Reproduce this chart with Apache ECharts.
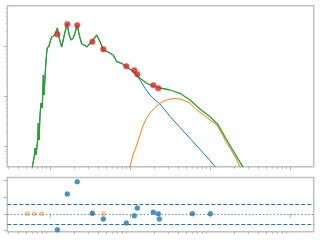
<!DOCTYPE html>
<html><head><meta charset="utf-8">
<script src="https://cdn.jsdelivr.net/npm/echarts@6/dist/echarts.min.js"></script>
<style>html,body{margin:0;padding:0;background:#fff}#c{width:320px;height:240px}</style>
</head><body><div id="c"></div>
<script>
// Total model (green)
const totalWave = [0.0587,0.0604,0.0637,0.0649,0.0668,0.0702,0.0714,0.0729,0.0750,0.0772,0.0801,0.0825,0.0841,0.0884,0.0910,0.0925,0.0972,0.100,0.105,0.110,0.1155,0.1234,0.127,0.132,0.140,0.151,0.163,0.174,0.183,0.1955,0.205,0.219,0.232,0.249,0.268,0.288,0.332,0.384,0.422,0.464,0.531,0.618,0.682,0.787,0.909,1.10,1.334,1.618,1.955,2.371,3.162,4.217,5.623,7.499,10.0,12.7,16.17,21.56,25.6,27.38];
const totalFlux = [0.2716,0.411,0.652,0.942,0.682,1.361,2.979,1.361,4.305,7.48,5.94,27.16,10.81,43.05,78.3,94.2,103.3,124.2,156.3,149.3,171.4,236.6,247.7,136.1,98.6,171.4,284.4,171.4,136.1,149.3,187.9,271.6,171.4,113.2,108.1,98.6,125.9,171.4,125.9,85.9,78.3,68.2,50.1,46.56,39.8,31.6,23.33,18.54,16.37,14.93,13.61,11.69,8.59,5.675,3.981,2.716,1.361,0.631,0.398,0.312];
// Stellar component (blue): identical to total below ~1.1, then its own tail
const stellarTailWave = [1.334,1.540,1.778,2.054,2.371,2.607,3.162,4.217,6.18,8.24,10.0,11.55,13.34];
const stellarTailFlux = [21.58,14.72,10.81,8.59,7.145,5.943,4.018,2.421,1.242,0.748,0.530,0.398,0.312];
// Dust component (orange)
const dustWave = [0.9716,1.090,1.213,1.334,1.466,1.618,1.778,2.054,2.371,2.738,3.162,3.652,4.217,4.87,5.623,6.823,8.66,10.0,12.13,13.72,15.4,17.78,20.54,23.71,25.85];
const dustFlux = [0.342,0.682,1.081,1.714,2.716,3.75,4.72,6.08,7.38,8.39,8.99,9.20,8.99,8.28,7.38,5.42,4.11,3.42,2.716,1.968,1.361,0.942,0.631,0.398,0.312];
// Observations (red)
const obsWave = [0.1234,0.1644,0.219,0.338,0.464,0.899,1.132,1.234,1.955,2.259];
const obsFlux = [177.0,280.5,267.9,125.9,88.7,40.55,33.73,28.05,16.9,14.72];
// Residuals
const residWave = [0.1234,0.1644,0.219,0.338,0.464,0.899,1.132,1.234,1.955,2.259,2.324,6.01,10.08];
const residValue = [-0.96,1.18,1.92,0.04,-0.31,-0.55,-0.12,0.34,0.10,0.0,-0.31,0.0,0.0];
const limitWave = [0.052,0.0637,0.0788,0.338,0.464];
const limitValue = [0,0,0,0,0];
// Ticks
const xMajorTicks = [0.1,1,10,100];
const xMinorTicks = [0.03,0.04,0.05,0.06,0.07,0.08,0.09,0.2,0.3,0.4,0.5,0.6,0.7,0.8,0.9,2,3,4,5,6,7,8,9,20,30,40,50,60,70,80,90];
const yMajorTicks = [1,10,100];
const yMinorTicks = [0.4,0.5,0.6,0.7,0.8,0.9,2,3,4,5,6,7,8,9,20,30,40,50,60,70,80,90,200,300,400,500,600];
const residTicks = [-1,0,1,2];
const residBand = [-0.6,0.6];

const stellarWave = totalWave.slice(0,46).concat(stellarTailWave);
const stellarFlux = totalFlux.slice(0,46).concat(stellarTailFlux);
const zip = (a,b)=>a.map((v,i)=>[v,b[i]]);

const XMIN=0.02925, XMAX=197.8, YMIN=0.398, YMAX=660.7;
const tickCol='#b0b0b0';
function xAx(grid, ticks, len, show){
  return {type:'log', logBase:10, gridIndex:grid, position:'bottom', min:XMIN, max:XMAX,
    axisLine:{show:false}, splitLine:{show:false}, axisLabel:{show:false},
    axisTick:{show:show, customValues:ticks, length:len, lineStyle:{color:tickCol,width:1}}};
}
const chart = echarts.init(document.getElementById('c'), null, {renderer:'canvas'});
chart.setOption({
  animation:false,
  backgroundColor:'#fff',
  grid:[
    {left:7.3, right:6.3, top:5.7, height:161, show:true, borderColor:'#c0c0c0', borderWidth:1.5, containLabel:false},
    {left:7.3, right:6.3, top:177.5, height:54.2, show:true, borderColor:'#c0c0c0', borderWidth:1.5, containLabel:false}
  ],
  xAxis:[ xAx(0,xMajorTicks,3.5,true), xAx(0,xMinorTicks,2,true), xAx(1,xMajorTicks,3.5,true), xAx(1,xMinorTicks,2,true) ],
  yAxis:[
    {type:'log', logBase:10, gridIndex:0, position:'left', min:YMIN, max:YMAX, axisLine:{show:false}, splitLine:{show:false}, axisLabel:{show:false},
      axisTick:{show:true, customValues:yMajorTicks, length:3.5, lineStyle:{color:tickCol}}},
    {type:'log', logBase:10, gridIndex:0, position:'left', min:YMIN, max:YMAX, axisLine:{show:false}, splitLine:{show:false}, axisLabel:{show:false},
      axisTick:{show:true, customValues:yMinorTicks, length:2, lineStyle:{color:'#d0d0d0'}}},
    {type:'value', gridIndex:1, position:'left', min:-1.07, max:2.17, axisLine:{show:false}, splitLine:{show:false}, axisLabel:{show:false},
      axisTick:{show:true, customValues:residTicks, length:3.5, lineStyle:{color:tickCol}}}
  ],
  series:[
    {type:'line', xAxisIndex:0, yAxisIndex:0, data:zip(stellarWave,stellarFlux), showSymbol:false, clip:true,
      lineStyle:{color:'#1f77b4', width:1}, z:2},
    {type:'line', xAxisIndex:0, yAxisIndex:0, data:zip(dustWave,dustFlux), showSymbol:false, clip:true,
      lineStyle:{color:'#ff7f0e', width:1}, z:3},
    {type:'line', xAxisIndex:0, yAxisIndex:0, data:zip(totalWave,totalFlux), showSymbol:false, clip:true,
      lineStyle:{color:'#2ca02c', width:1.3}, z:4},
    {type:'scatter', xAxisIndex:0, yAxisIndex:0, data:zip(obsWave,obsFlux), symbolSize:5.5,
      itemStyle:{color:'#d62728', borderColor:'rgba(214,39,40,0.35)', borderWidth:1.5}, z:5},
    {type:'scatter', xAxisIndex:2, yAxisIndex:2, data:zip(limitWave,limitValue), symbolSize:5,
      itemStyle:{color:'#ff7f0e', opacity:0.45}, z:4},
    {type:'scatter', xAxisIndex:2, yAxisIndex:2, data:zip(residWave,residValue), symbolSize:5,
      itemStyle:{color:'#1f77b4', borderColor:'rgba(31,119,180,0.35)', borderWidth:1}, z:5,
      markLine:{silent:true, symbol:'none', label:{show:false},
        data:[
          {yAxis:residBand[0], lineStyle:{color:'#1f77b4', type:[4,2], width:1}},
          {yAxis:residBand[1], lineStyle:{color:'#1f77b4', type:[4,2], width:1}},
          {yAxis:0, lineStyle:{color:'#1f77b4', type:[1.5,2], width:1, opacity:0.75}}
        ]}}
  ]
});
</script></body></html>
